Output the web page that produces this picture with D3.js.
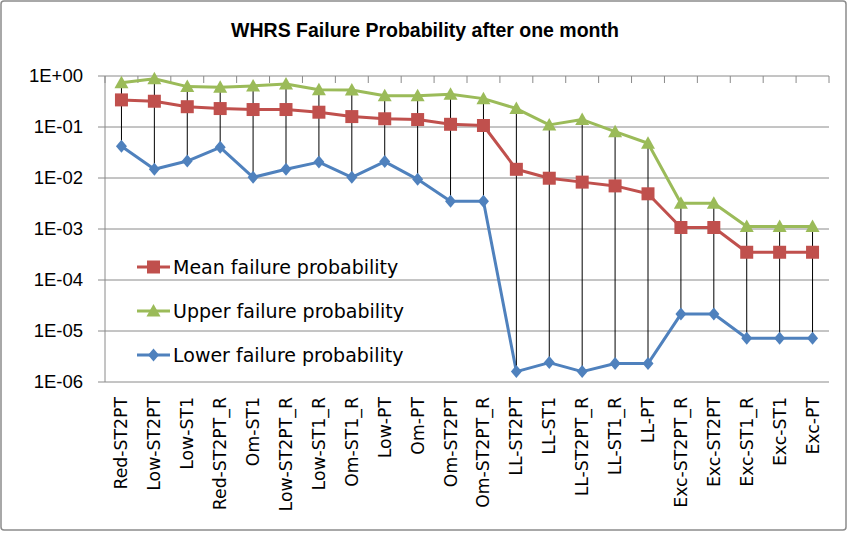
<!DOCTYPE html>
<html>
  <head>
    <meta charset="utf-8">
    <script src="https://d3js.org/d3.v7.min.js"></script>
    <title>WHRS Failure Probability after one month</title>
    <style>
      body { margin:0; background:#fff; }
      svg { display:block; }
    </style>
  </head>
  <body>
    <script>
    var width = 849, height = 534;

    // categories along the x axis
    var categories = ["Red-ST2PT","Low-ST2PT","Low-ST1","Red-ST2PT_R","Om-ST1","Low-ST2PT_R",
      "Low-ST1_R","Om-ST1_R","Low-PT","Om-PT","Om-ST2PT","Om-ST2PT_R","LL-ST2PT","LL-ST1",
      "LL-ST2PT_R","LL-ST1_R","LL-PT","Exc-ST2PT_R","Exc-ST2PT","Exc-ST1_R","Exc-ST1","Exc-PT"];

    // values
    var meanProb  = [0.34,0.32,0.25,0.23,0.22,0.22,0.195,0.16,0.145,0.14,0.113,0.107,
      0.0148,0.0099,0.0083,0.0070,0.0049,0.00107,0.00107,0.00035,0.00035,0.00035];
    var upperProb = [0.74,0.88,0.62,0.60,0.64,0.70,0.54,0.53,0.41,0.41,0.44,0.36,
      0.23,0.11,0.14,0.081,0.048,0.0032,0.0032,0.00112,0.00112,0.00112];
    var lowerProb = [0.042,0.0148,0.0215,0.040,0.0103,0.0148,0.0205,0.0103,0.021,0.0094,0.0035,0.0035,
      1.6e-6,2.4e-6,1.6e-6,2.3e-6,2.3e-6,2.15e-5,2.15e-5,7.2e-6,7.2e-6,7.2e-6];

    var yTicks = [1, 1e-1, 1e-2, 1e-3, 1e-4, 1e-5, 1e-6];
    var yTickLabels = ["1E+00","1E-01","1E-02","1E-03","1E-04","1E-05","1E-06"];

    var seriesNames = ["Mean failure probability","Upper failure probability","Lower failure probability"];

    var series = [
      {name: seriesNames[0], values: meanProb,  color: "#C0504D", marker: "square"},
      {name: seriesNames[1], values: upperProb, color: "#9BBB59", marker: "triangle"},
      {name: seriesNames[2], values: lowerProb, color: "#4F81BD", marker: "diamond"}
    ];

    var svg = d3.select("body").append("svg")
      .attr("width", width).attr("height", height);

    // chart border
    svg.append("rect")
      .attr("x", 1).attr("y", 1).attr("width", 845).attr("height", 529)
      .attr("rx", 3)
      .attr("fill", "#fff").attr("stroke", "#8c8c8c").attr("stroke-width", 1.5);

    // title
    svg.append("text")
      .attr("x", 425).attr("y", 37)
      .attr("text-anchor", "middle")
      .style("font-family", "'Liberation Sans', Arial, sans-serif")
      .style("font-weight", "bold").style("font-size", "19.5px")
      .text("WHRS Failure Probability after one month");

    var plotLeft = 105, plotRight = 829, plotTop = 76, plotBottom = 382;

    var x = d3.scaleBand().domain(categories).range([plotLeft, plotRight]).padding(0);
    var y = d3.scaleLog().domain([1e-6, 1]).range([plotBottom, plotTop]);
    var cx = function(i) { return x(categories[i]) + x.bandwidth() / 2; };

    // gridlines
    svg.append("g").selectAll("line")
      .data(yTicks).enter().append("line")
      .attr("x1", plotLeft - 7).attr("x2", plotRight)
      .attr("y1", function(d) { return y(d); }).attr("y2", function(d) { return y(d); })
      .attr("stroke", "#8a8a8a").attr("stroke-width", 1);

    // y axis line
    svg.append("line")
      .attr("x1", plotLeft).attr("x2", plotLeft)
      .attr("y1", plotTop).attr("y2", plotBottom)
      .attr("stroke", "#8a8a8a");

    // y labels
    svg.append("g").selectAll("text")
      .data(yTicks).enter().append("text")
      .attr("x", 83)
      .attr("y", function(d) { return y(d); })
      .attr("dy", "0.35em")
      .attr("text-anchor", "end")
      .style("font-family", "'Liberation Sans', Arial, sans-serif")
      .style("font-size", "18.5px")
      .text(function(d, i) { return yTickLabels[i]; });

    // category ticks along the top line (axis crosses at 1E+00)
    var bounds = d3.range(categories.length + 1).map(function(i) {
      return i < categories.length ? x(categories[i]) : plotRight;
    });
    svg.append("g").selectAll("line")
      .data(bounds).enter().append("line")
      .attr("x1", function(d) { return d; }).attr("x2", function(d) { return d; })
      .attr("y1", plotTop).attr("y2", plotTop + 7)
      .attr("stroke", "#8a8a8a");

    // category labels
    svg.append("g").selectAll("text")
      .data(categories).enter().append("text")
      .attr("transform", function(d, i) { return "translate(" + (cx(i) + 6) + ",397) rotate(-90)"; })
      .attr("text-anchor", "end")
      .style("font-family", "'DejaVu Sans', sans-serif")
      .style("font-size", "17.3px")
      .text(function(d) { return d; });

    function markerPath(type) {
      if (type === "square") return "M-6.5,-6.5H6.5V6.5H-6.5Z";
      if (type === "triangle") return "M0,-7L7,5.5H-7Z";
      return "M0,-6.5L5.5,0L0,6.5L-5.5,0Z";
    }

    var line = d3.line()
      .x(function(d, i) { return cx(i); })
      .y(function(d) { return y(d); });

    // series lines
    series.forEach(function(s) {
      svg.append("path")
        .datum(s.values)
        .attr("d", line)
        .attr("fill", "none")
        .attr("stroke", s.color)
        .attr("stroke-width", 3)
        .attr("stroke-linejoin", "round");
    });

    // high-low lines
    svg.append("g").selectAll("line")
      .data(categories).enter().append("line")
      .attr("x1", function(d, i) { return cx(i); }).attr("x2", function(d, i) { return cx(i); })
      .attr("y1", function(d, i) { return y(upperProb[i]); })
      .attr("y2", function(d, i) { return y(lowerProb[i]); })
      .attr("stroke", "#000").attr("stroke-width", 1);

    // markers
    series.forEach(function(s) {
      svg.append("g").selectAll("path")
        .data(s.values).enter().append("path")
        .attr("transform", function(d, i) { return "translate(" + cx(i) + "," + y(d) + ")"; })
        .attr("d", markerPath(s.marker))
        .attr("fill", s.color);
    });

    // legend
    var legend = svg.append("g").selectAll("g")
      .data(series).enter().append("g")
      .attr("transform", function(d, i) { return "translate(137," + (267 + i * 44) + ")"; });
    legend.append("line")
      .attr("x1", 0).attr("x2", 33)
      .attr("stroke", function(d) { return d.color; })
      .attr("stroke-width", 3);
    legend.append("path")
      .attr("transform", "translate(16.5,0)")
      .attr("d", function(d) { return markerPath(d.marker); })
      .attr("fill", function(d) { return d.color; });
    legend.append("text")
      .attr("x", 36).attr("dy", "0.36em")
      .style("font-family", "'DejaVu Sans', sans-serif")
      .style("font-size", "19px")
      .text(function(d) { return d.name; });
    </script>
  </body>
</html>
